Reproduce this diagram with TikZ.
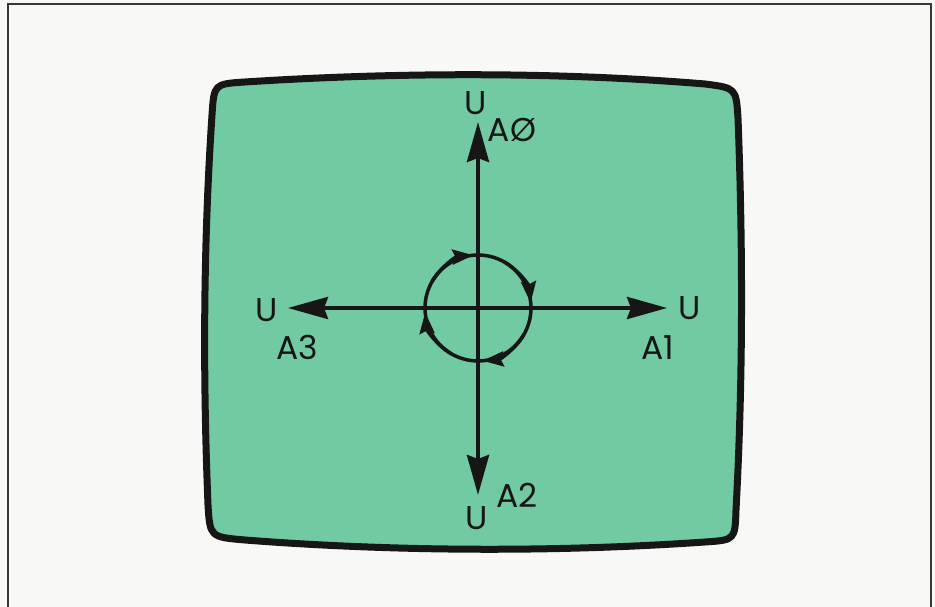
\documentclass[tikz,border=0pt]{standalone}
\usepackage{fontspec}
\setmainfont{Poppins}
\usetikzlibrary{arrows.meta,positioning}
\definecolor{ecran}{RGB}{114,202,162}
\definecolor{papier}{RGB}{248,248,246}
\definecolor{cadre}{RGB}{55,55,55}
\definecolor{encre}{RGB}{22,22,22}

\begin{document}
\begin{tikzpicture}[x=1pt,y=1pt,
    axe/.style={encre,line width=4pt,-{Stealth[length=40pt,width=22pt,inset=4pt]}},
    tourne/.style={encre,line width=3.5pt,-{Stealth[length=21pt,width=15pt,inset=3pt]}},
    lbl/.style={font=\fontsize{33}{36}\selectfont,text=encre,inner sep=0pt}]
      \useasboundingbox (0,0) rectangle (935,607);
      \fill[papier] (0,0) rectangle (935,607);
      % cadre
      \draw[cadre,line width=2pt] (8,-5) -- (8,603) -- (931,603) -- (931,-5);
      % ecran
      \draw[encre,fill=ecran,line width=7pt,line join=round]
        (245,525) .. controls (400,535) and (560,535) .. (705,523)
        .. controls (736,519) .. (738,489)
        .. controls (743,357) and (743,227) .. (736,97)
        .. controls (735,67) .. (705,65)
        .. controls (560,55) and (400,55) .. (245,67)
        .. controls (210,70) .. (208,102)
        .. controls (203,227) and (203,357) .. (212,492)
        .. controls (214,523) .. (245,525) -- cycle;
      % axes
      \coordinate (o) at (478,299);
      \coordinate (tipN) at (478,485);
      \coordinate (tipS) at (478,112);
      \coordinate (tipW) at (288,299);
      \coordinate (tipE) at (667,299);
      \draw[axe] (o) -- (tipN);
      \draw[axe] (o) -- (tipS);
      \draw[axe] (o) -- (tipW);
      \draw[axe] (o) -- (tipE);
      % rotation
      \draw[encre,line width=3.5pt] (o) circle[radius=53];
      \draw[tourne] ([shift={(150:53)}]o) arc[start angle=150,end angle=95,radius=53];
      \draw[tourne] ([shift={(60:53)}]o) arc[start angle=60,end angle=6,radius=53];
      \draw[tourne] ([shift={(-30:53)}]o) arc[start angle=-30,end angle=-85,radius=53];
      \draw[tourne] ([shift={(240:53)}]o) arc[start angle=240,end angle=185,radius=53];
      % textes
      \node[lbl] (uN) at (476,504) {U};
      \node[lbl] (aN) at (512,477) {AØ};
      \node[lbl] (uW) at (267,297) {U};
      \node[lbl] (aW) at (297,260) {A3};
      \node[lbl] (uE) at (690,299) {U};
      \node[lbl] (aE) at (658,259) {A1};
      \node[lbl] (uS) at (477,89) {U};
      \node[lbl] (aS) at (517,112) {A2};
\end{tikzpicture}
\end{document}
